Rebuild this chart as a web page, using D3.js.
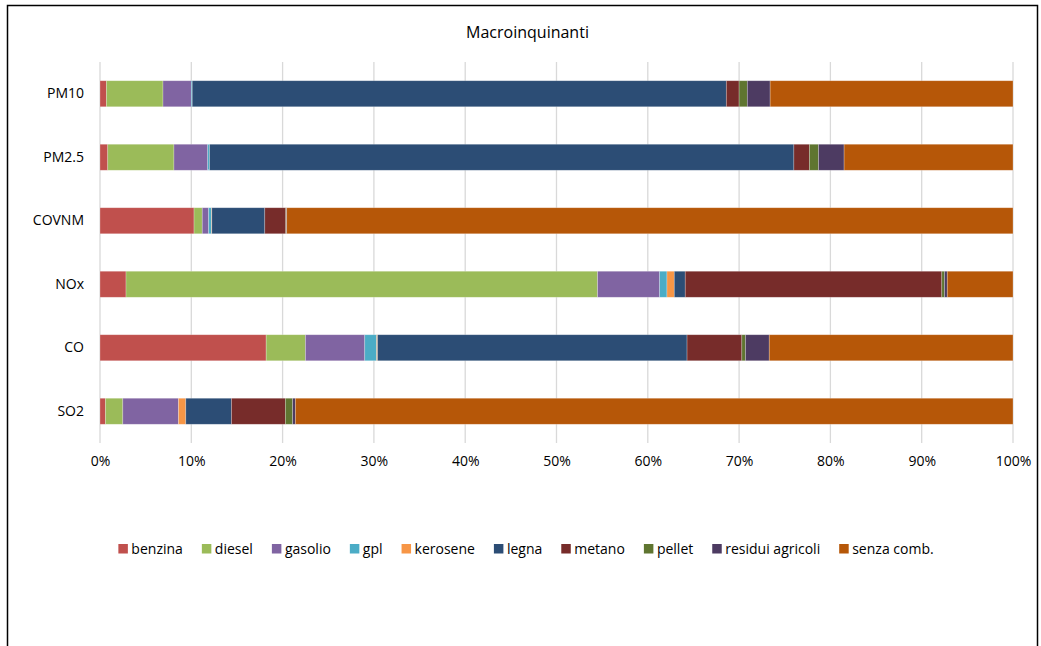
<!DOCTYPE html>
<html><head><meta charset="utf-8">
<script src="https://cdn.jsdelivr.net/npm/d3@7"></script>
<style>body{margin:0;background:#fff}svg{display:block}</style>
</head><body>
<script>
const categories = ["PM10","PM2.5","COVNM","NOx","CO","SO2"];
const seriesNames = ["benzina","diesel","gasolio","gpl","kerosene","legna","metano","pellet","residui agricoli","senza comb."];
const benzina  = [0.7, 0.85, 10.3, 2.85, 18.2, 0.6];
const diesel   = [6.2, 7.25, 0.9, 51.65, 4.3, 1.9];
const gasolio  = [3.1, 3.7, 0.7, 6.8, 6.5, 6.1];
const gpl      = [0.1, 0.2, 0.3, 0.8, 1.3, 0.0];
const kerosene = [0.0, 0.0, 0.05, 0.8, 0.1, 0.8];
const legna    = [58.5, 64.0, 5.8, 1.2, 33.9, 5.0];
const metano   = [1.4, 1.7, 2.3, 28.1, 6.0, 5.9];
const pellet   = [0.9, 1.0, 0.05, 0.3, 0.4, 0.8];
const residui  = [2.5, 2.8, 0.05, 0.3, 2.6, 0.3];
const senza    = [26.6, 18.5, 79.55, 7.2, 26.7, 78.6];
const tickValues = [0,0.1,0.2,0.3,0.4,0.5,0.6,0.7,0.8,0.9,1];
const colors = ["#C0504D","#9BBB59","#8064A2","#4BACC6","#F79646","#2C4D75","#772C2A","#5F7530","#4D3B62","#B65708"];

const seriesValues = [benzina,diesel,gasolio,gpl,kerosene,legna,metano,pellet,residui,senza];
const rows = categories.map((c,i)=>{
  const r={cat:c}; let tot=0;
  seriesNames.forEach((s,j)=>{tot+=seriesValues[j][i];});
  seriesNames.forEach((s,j)=>{r[s]=seriesValues[j][i]/tot;});
  return r;
});
const stack = d3.stack().keys(seriesNames)(rows);

const W=1041,H=646;
const font="'Open Sans', 'Liberation Sans', Arial, sans-serif";
const svg=d3.select("body").append("svg").attr("width",W).attr("height",H);
svg.append("rect").attr("x",7.5).attr("y",5.5).attr("width",1030).attr("height",700)
  .attr("fill","#fff").attr("stroke","#000").attr("stroke-width",1.5);

const x=d3.scaleLinear().domain([0,1]).range([100,1013]);
const y=d3.scaleBand().domain(categories).range([62,443]).paddingInner(0.59).paddingOuter(0.295);

svg.append("text").attr("x",527.5).attr("y",38).attr("text-anchor","middle")
  .attr("font-family",font).attr("font-size",16).attr("fill","#000").text("Macroinquinanti");

// grid
svg.append("g").selectAll("line").data(tickValues).join("line")
  .attr("x1",d=>x(d)).attr("x2",d=>x(d)).attr("y1",62).attr("y2",443)
  .attr("stroke","#d9d9d9").attr("stroke-width",1.3);

svg.append("g").selectAll("g").data(stack).join("g")
  .attr("fill",(d,i)=>colors[i])
  .selectAll("rect").data(d=>d).join("rect")
  .attr("x",d=>x(d[0])).attr("width",d=>Math.max(0,x(d[1])-x(d[0])))
  .attr("y",d=>y(d.data.cat)).attr("height",y.bandwidth())
  .attr("stroke","#fff").attr("stroke-opacity",0.35).attr("stroke-width",0.7);

const xAxis=svg.append("g").attr("transform","translate(0,443)")
  .call(d3.axisBottom(x).tickValues(tickValues).tickFormat(d3.format(".0%")).tickSize(0).tickPadding(13));
xAxis.select(".domain").remove();
xAxis.selectAll("text").attr("font-family",font).attr("font-size",14).attr("fill","#000");

const yAxis=svg.append("g").attr("transform","translate(100,0)")
  .call(d3.axisLeft(y).tickSize(0).tickPadding(16));
yAxis.select(".domain").remove();
yAxis.selectAll("text").attr("font-family",font).attr("font-size",14).attr("fill","#000");

// legend
const leg=svg.append("g").attr("transform","translate(0,549)");
let lx=0; const items=[];
seriesNames.forEach((s,i)=>{
  const g=leg.append("g");
  g.append("rect").attr("x",0).attr("y",-5).attr("width",9.5).attr("height",9.5).attr("fill",colors[i]);
  const t=g.append("text").attr("x",13).attr("y",5).attr("font-family",font).attr("font-size",14).attr("fill","#000").text(s);
  const w=13+t.node().getComputedTextLength();
  items.push({g,w});
});
const gap=19;
const total=d3.sum(items,d=>d.w)+gap*(items.length-1);
lx=526-total/2;
items.forEach(it=>{it.g.attr("transform",`translate(${lx},0)`); lx+=it.w+gap;});
</script>
</body></html>
